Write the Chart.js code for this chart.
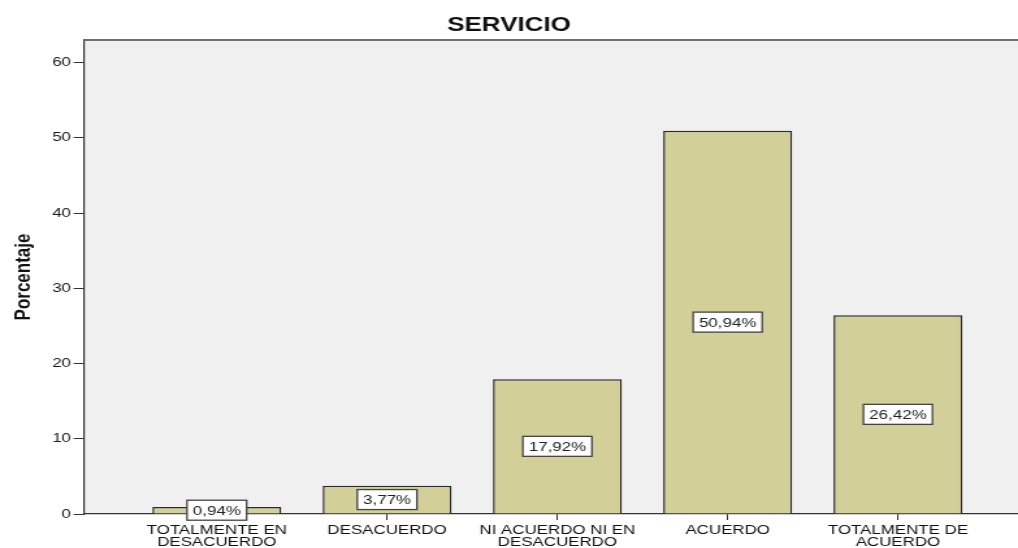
<!DOCTYPE html>
<html>
<head>
<meta charset="utf-8">
<script src="https://cdn.jsdelivr.net/npm/chart.js@4/dist/chart.umd.min.js"></script>
<style>
    body { margin: 0; background: #ffffff; }
    #chart { display: block; }
</style>
</head>
<body>
<!-- El gráfico original está estirado en horizontal: se dibuja más estrecho y se estira con CSS -->
<canvas id="chart" width="783" height="548" style="width:1018px;height:548px"></canvas>
<script>
// Datos
const categories = [
    ['TOTALMENTE EN', 'DESACUERDO'],
    ['DESACUERDO'],
    ['NI ACUERDO NI EN', 'DESACUERDO'],
    ['ACUERDO'],
    ['TOTALMENTE DE', 'ACUERDO']
];
const percentages = [0.94, 3.77, 17.92, 50.94, 26.42];
const valueLabels = ['0,94%', '3,77%', '17,92%', '50,94%', '26,42%'];
const yTicks = [0, 10, 20, 30, 40, 50, 60];

const FONT = "'Liberation Sans', Arial, sans-serif";

// Fondo gris del área de trazado + borde superior
const plotFrame = {
    id: 'plotFrame',
    beforeDraw(chart) {
        const { ctx, chartArea: a } = chart;
        ctx.save();
        ctx.fillStyle = '#f0f0f0';
        ctx.fillRect(a.left, a.top, a.right - a.left, a.bottom - a.top);
        ctx.restore();
    },
    afterDraw(chart) {
        const { ctx, chartArea: a } = chart;
        ctx.save();
        ctx.strokeStyle = '#707070';
        ctx.lineWidth = 2;
        ctx.beginPath();
        ctx.moveTo(a.left, a.top);
        ctx.lineTo(chart.width, a.top);
        ctx.stroke();
        ctx.restore();
    }
};

// Etiquetas de porcentaje en cajas blancas, centradas en cada barra
const boxLabels = {
    id: 'boxLabels',
    afterDatasetsDraw(chart) {
        const { ctx } = chart;
        const meta = chart.getDatasetMeta(0);
        ctx.save();
        ctx.font = '13px ' + FONT;
        ctx.textAlign = 'center';
        ctx.textBaseline = 'middle';
        meta.data.forEach((bar, i) => {
            const text = valueLabels[i];
            const cy = (bar.y + bar.base) / 2;
            const w = ctx.measureText(text).width + 9;
            const h = 20;
            ctx.fillStyle = '#ffffff';
            ctx.fillRect(bar.x - w / 2, cy - h / 2, w, h);
            ctx.strokeStyle = '#444444';
            ctx.lineWidth = 1.3;
            ctx.strokeRect(bar.x - w / 2, cy - h / 2, w, h);
            ctx.fillStyle = '#222222';
            ctx.fillText(text, bar.x, cy + 1);
        });
        ctx.restore();
    }
};

new Chart(document.getElementById('chart'), {
    type: 'bar',
    data: {
        datasets: [{
            data: percentages.map((v, i) => ({ x: i, y: v })),
            backgroundColor: '#d3cf98',
            borderColor: '#2a2a2a',
            borderWidth: 1.5,
            categoryPercentage: 1,
            barPercentage: 0.757
        }]
    },
    options: {
        responsive: false,
        animation: false,
        layout: { padding: 0 },
        plugins: {
            legend: { display: false },
            tooltip: { enabled: false },
            title: {
                display: true,
                text: 'SERVICIO',
                color: '#111111',
                font: { family: FONT, size: 20, weight: 'bold', lineHeight: 1.2 },
                padding: { top: 13, bottom: 3 }
            }
        },
        scales: {
            x: {
                type: 'linear',
                min: -0.78,
                max: 4.705,
                offset: false,
                grid: { display: true, drawOnChartArea: false, drawTicks: true, offset: false, tickLength: 6, color: '#333333' },
                border: { display: true, color: '#333333', width: 1.2 },
                afterBuildTicks: (scale) => { scale.ticks = categories.map((c, i) => ({ value: i })); },
                afterFit: (scale) => { scale.height = 34; },
                ticks: {
                    autoSkip: false,
                    maxRotation: 0,
                    padding: 5,
                    color: '#111111',
                    font: { family: FONT, size: 13, lineHeight: 0.9 },
                    callback: (value) => categories[value]
                }
            },
            y: {
                min: 0,
                max: 63,
                grid: { display: true, drawOnChartArea: false, drawTicks: true, tickLength: 8, color: '#333333' },
                border: { display: true, color: '#333333', width: 1.2 },
                afterBuildTicks: (scale) => { scale.ticks = yTicks.map(v => ({ value: v })); },
                afterFit: (scale) => { scale.width = 64.6; },
                ticks: {
                    padding: 2,
                    color: '#1a1a1a',
                    font: { family: FONT, size: 13 }
                },
                title: {
                    display: true,
                    text: 'Porcentaje',
                    color: '#111111',
                    font: { family: FONT, size: 17, weight: 'bold', lineHeight: 1.2 },
                    padding: { top: 8, bottom: 0 }
                }
            }
        }
    },
    plugins: [plotFrame, boxLabels]
});
</script>
</body>
</html>
